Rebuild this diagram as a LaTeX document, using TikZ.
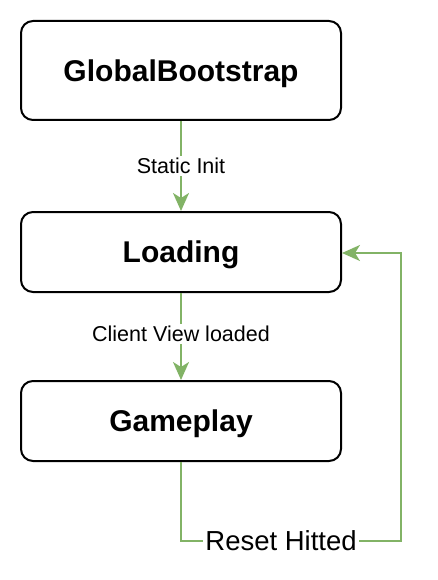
\documentclass[tikz,border=0pt]{standalone}
\usepackage{fontspec}
\setmainfont{Liberation Sans}
\usetikzlibrary{arrows.meta}
\definecolor{edgegreen}{HTML}{82B366}
\begin{document}
\begin{tikzpicture}[x=1pt,y=1pt,
  statebox/.style={draw=black, line width=2pt, rounded corners=12pt, fill=white,
    minimum width=320pt, inner sep=0pt, text depth=0pt, font=\fontsize{30}{34}\selectfont\bfseries},
  flow/.style={draw=edgegreen, line width=2pt,
    -{Stealth[length=18pt,width=16pt,inset=5pt]}},
  elabel/.style={fill=white, inner sep=2pt, text=black, font=\fontsize{21.5}{24}\selectfont},
  biglabel/.style={fill=white, inner sep=2.5pt, text=black, font=\fontsize{27.5}{30}\selectfont}]
\useasboundingbox (0,0) rectangle (438,-580);
\node[statebox, minimum height=99pt] (gb) at (181,-70.5) {GlobalBootstrap};
\node[statebox, minimum height=80pt] (ld) at (181,-252) {Loading};
\node[statebox, minimum height=80pt] (gp) at (181,-421) {Gameplay};
\coordinate (c1) at (181,-541);
\coordinate (c2) at (401,-541);
\coordinate (c3) at (401,-253);
\draw[flow] (gb.south) -- node[elabel, pos=0.5] {Static Init} (ld.north);
\draw[flow] (ld.south) -- node[elabel, pos=0.47] {Client View loaded} (gp.north);
\draw[flow] (gp.south) -- (c1) -- node[biglabel, pos=0.455] {Reset Hitted} (c2) -- (c3) -- (ld.east |- c3);
\end{tikzpicture}
\end{document}
